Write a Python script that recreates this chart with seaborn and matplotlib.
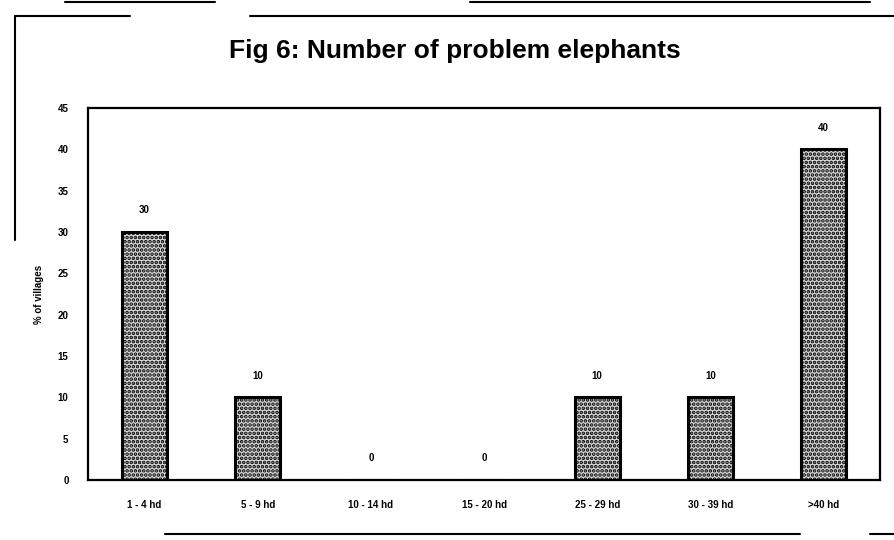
import matplotlib
matplotlib.use("Agg")
import matplotlib.pyplot as plt
from matplotlib.lines import Line2D
import seaborn as sns
import pandas as pd

categories = ["1 - 4 hd", "5 - 9 hd", "10 - 14 hd", "15 - 20 hd", "25 - 29 hd", "30 - 39 hd", ">40 hd"]
values = [30, 10, 0, 0, 10, 10, 40]
yticks = [0, 5, 10, 15, 20, 25, 30, 35, 40, 45]
title = "Fig 6: Number of problem elephants"
ylabel = "% of villages"

sns.set_theme(style="white")
plt.rcParams['font.family'] = ['Liberation Sans', 'DejaVu Sans']
plt.rcParams['hatch.linewidth'] = 1.8
plt.rcParams['text.color'] = 'black'
plt.rcParams['axes.labelcolor'] = 'black'
plt.rcParams['xtick.color'] = 'black'
plt.rcParams['ytick.color'] = 'black'

df = pd.DataFrame({"cat": categories, "val": values})

fig = plt.figure(figsize=(8.94, 5.4), dpi=100)
ax = fig.add_axes([0.0984, 0.111, 0.886, 0.689])

sns.barplot(data=df, x="cat", y="val", color="#d8d8d8", width=0.4, ax=ax,
            edgecolor="black", linewidth=2.2, saturation=1)
for p in ax.patches:
    p.set_hatch("....")
    p.set_edgecolor("black")

ax.bar_label(ax.containers[0], labels=[str(v) for v in values], padding=12,
             fontsize=7, fontweight="bold", color="black")

ax.set_ylim(0, 45)
ax.set_xlim(-0.5, len(categories) - 0.5)
ax.set_yticks(yticks)
ax.set_yticklabels([str(t) for t in yticks], fontsize=7, fontweight="bold")
ax.tick_params(axis="x", labelsize=7, pad=14)
for lab in ax.get_xticklabels():
    lab.set_fontweight("bold")
ax.tick_params(axis="y", pad=14, length=0)
ax.tick_params(axis="x", length=0)
ax.set_xlabel("")
ax.set_ylabel(ylabel, fontsize=7, fontweight="bold", labelpad=10)
for s in ax.spines.values():
    s.set_color("black")
    s.set_linewidth(1.6)

fig.text(0.509, 0.905, title, ha="center", va="center", fontsize=19,
         fontweight="bold", color="black")

# scanned page frame lines
def fline(x0, y0, x1, y1, lw=1.5):
    fig.add_artist(Line2D([x0 / 894, x1 / 894], [1 - y0 / 540, 1 - y1 / 540],
                          color="black", linewidth=lw))

fline(15, 16, 15, 240)
fline(15, 16, 130, 16)
fline(250, 16, 894, 16)
fline(65, 2, 215, 2)
fline(470, 2, 870, 2)
fline(165, 534, 800, 534)
fline(870, 534, 894, 534)

fig.savefig("out.png", dpi=100)
